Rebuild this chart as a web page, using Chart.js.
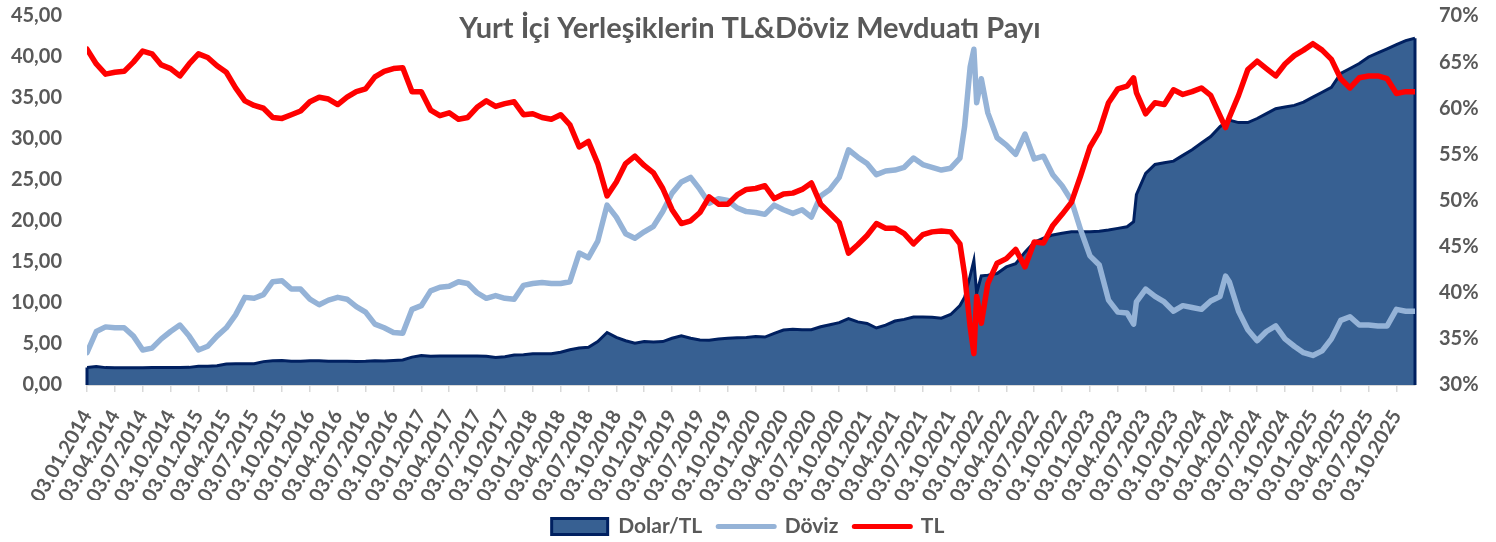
<!DOCTYPE html>
<html>
<head>
<meta charset="utf-8">
<script src="https://cdn.jsdelivr.net/npm/chart.js@4.4.0/dist/chart.umd.min.js"></script>
<style>
  html, body { margin: 0; padding: 0; background: #fff; }
  #wrap { width: 1496px; height: 542px; }
</style>
</head>
<body>
<div id="wrap"><canvas id="depositChart" width="1496" height="542"></canvas></div>
<script>
// month index from 03.01.2014 (0) to Dec 2025 (143); extra points around the Dec 2021 spike
const months = [
  0, 1, 2, 3, 4, 5, 6, 7, 8, 9,
  10, 11, 12, 13, 14, 15, 16, 17, 18, 19,
  20, 21, 22, 23, 24, 25, 26, 27, 28, 29,
  30, 31, 32, 33, 34, 35, 36, 37, 38, 39,
  40, 41, 42, 43, 44, 45, 46, 47, 48, 49,
  50, 51, 52, 53, 54, 55, 56, 57, 58, 59,
  60, 61, 62, 63, 64, 65, 66, 67, 68, 69,
  70, 71, 72, 73, 74, 75, 76, 77, 78, 79,
  80, 81, 82, 83, 84, 85, 86, 87, 88, 89,
  90, 91, 92, 93, 94,
  94.5, 95.1, 95.5, 95.8, 96.3,
  97, 98, 99, 100, 101, 102, 103, 104, 105, 106,
  107, 108, 109, 110, 111, 112,
  112.7,
  113, 114, 115, 116, 117, 118, 119, 120, 121, 122,
  122.6,
  123, 124, 125, 126, 127, 128, 129, 130, 131, 132,
  133, 134, 135, 136, 137, 138, 139, 140, 141, 142, 143
];

const dolarTL = [
  2.12, 2.25, 2.12, 2.1, 2.1, 2.1, 2.1, 2.12, 2.12, 2.12,
  2.12, 2.15, 2.28, 2.3, 2.35, 2.55, 2.58, 2.58, 2.6, 2.85,
  2.95, 3.0, 2.9, 2.9, 2.95, 2.95, 2.9, 2.9, 2.9, 2.88,
  2.9, 2.95, 2.92, 3.0, 3.05, 3.4, 3.6, 3.5, 3.55, 3.55,
  3.55, 3.55, 3.55, 3.5, 3.35, 3.45, 3.65, 3.7, 3.8, 3.8,
  3.8, 4.0, 4.3, 4.5, 4.6, 5.3, 6.4, 5.8, 5.4, 5.1,
  5.3, 5.25, 5.3, 5.7, 6.0, 5.7, 5.5, 5.45, 5.6, 5.7,
  5.75, 5.8, 5.9, 5.85, 6.3, 6.7, 6.8, 6.75, 6.75, 7.1,
  7.35, 7.6, 8.1, 7.7, 7.5, 6.95, 7.3, 7.8, 8.0, 8.3,
  8.3, 8.25, 8.15, 8.6, 9.7,
  10.7, 13.3, 15.2, 11.2, 13.3,
  13.4, 13.6, 14.4, 14.8, 16.2, 17.4, 17.9, 18.3, 18.5, 18.7,
  18.7, 18.7, 18.75, 18.9, 19.1, 19.3,
  19.9,
  23.2, 25.8, 26.9, 27.1, 27.3, 28.0, 28.7, 29.5, 30.3, 31.5,
  32.0,
  32.3, 32.0, 32.0, 32.5, 33.1, 33.7, 33.9, 34.1, 34.5, 35.1,
  35.7, 36.3, 38.0, 38.6, 39.2, 40.0, 40.5, 41.0, 41.5, 42.0, 42.3
];

const doviz = [
  33.5, 35.8, 36.3, 36.2, 36.2, 35.3, 33.8, 34.0, 35.0, 35.8,
  36.5, 35.3, 33.8, 34.2, 35.3, 36.2, 37.6, 39.5, 39.4, 39.8,
  41.2, 41.3, 40.4, 40.4, 39.3, 38.7, 39.2, 39.5, 39.3, 38.5,
  37.9, 36.6, 36.2, 35.7, 35.6, 38.2, 38.6, 40.2, 40.6, 40.7,
  41.2, 41.0, 40.0, 39.4, 39.7, 39.4, 39.3, 40.8, 41.0, 41.1,
  41.0, 41.0, 41.2, 44.3, 43.8, 45.6, 49.5, 48.2, 46.4, 45.9,
  46.6, 47.2, 48.8, 50.8, 52.0, 52.5, 51.2, 49.7, 50.2, 50.0,
  49.2, 48.8, 48.7, 48.5, 49.5, 49.0, 48.6, 49.0, 48.2, 50.5,
  51.2, 52.5, 55.5, 54.7, 54.0, 52.8, 53.2, 53.3, 53.6, 54.6,
  53.9, 53.6, 53.3, 53.5, 54.6,
  58.0, 64.5, 66.4, 60.6, 63.2,
  59.5, 56.8, 56.0, 55.0, 57.2, 54.5, 54.8, 52.8, 51.6, 50.0,
  46.8, 44.0, 43.0, 39.2, 37.9, 37.8,
  36.6,
  39.0, 40.4, 39.6, 39.0, 38.0, 38.6, 38.4, 38.2, 39.1, 39.6,
  41.8,
  41.2, 38.0, 36.0, 34.8, 35.8, 36.4, 35.0, 34.2, 33.5, 33.2,
  33.7, 35.0, 37.0, 37.4, 36.5, 36.5, 36.4, 36.4, 38.2, 38.0, 38.0
];

const tl = [
  66.4, 64.8, 63.7, 63.9, 64.0, 65.0, 66.2, 65.9, 64.7, 64.3,
  63.5, 64.8, 65.9, 65.5, 64.6, 63.9, 62.2, 60.8, 60.3, 60.0,
  59.0, 58.9, 59.3, 59.7, 60.7, 61.2, 61.0, 60.4, 61.2, 61.8,
  62.1, 63.4, 64.0, 64.3, 64.4, 61.8, 61.8, 59.8, 59.2, 59.5,
  58.8, 59.0, 60.1, 60.8, 60.2, 60.5, 60.7, 59.3, 59.4, 59.0,
  58.8, 59.3, 58.2, 55.8, 56.4, 54.0, 50.5, 52.0, 54.0, 54.8,
  53.8, 53.0, 51.3, 49.0, 47.5, 47.8, 48.7, 50.4, 49.6, 49.6,
  50.6, 51.2, 51.3, 51.6, 50.2, 50.7, 50.8, 51.2, 51.9, 49.6,
  48.6, 47.6, 44.3, 45.2, 46.2, 47.5, 47.0, 47.0, 46.4, 45.3,
  46.3, 46.6, 46.7, 46.6, 45.3,
  42.0, 36.3, 33.4, 39.6, 36.7,
  41.0, 43.2, 43.7, 44.7, 42.8, 45.5, 45.4, 47.3, 48.5, 49.8,
  52.7, 55.8, 57.5, 60.6, 62.1, 62.4,
  63.3,
  61.7, 59.4, 60.6, 60.4, 62.0, 61.5, 61.8, 62.2, 61.4, 59.2,
  57.9,
  59.0, 61.4, 64.2, 65.1, 64.3, 63.5, 64.8, 65.7, 66.3, 67.0,
  66.3, 65.3, 63.2, 62.2, 63.3, 63.5, 63.5, 63.2, 61.6, 61.8, 61.8
];

const quarterLabels = [
  '03.01.2014', '03.04.2014', '03.07.2014', '03.10.2014',
  '03.01.2015', '03.04.2015', '03.07.2015', '03.10.2015',
  '03.01.2016', '03.04.2016', '03.07.2016', '03.10.2016',
  '03.01.2017', '03.04.2017', '03.07.2017', '03.10.2017',
  '03.01.2018', '03.04.2018', '03.07.2018', '03.10.2018',
  '03.01.2019', '03.04.2019', '03.07.2019', '03.10.2019',
  '03.01.2020', '03.04.2020', '03.07.2020', '03.10.2020',
  '03.01.2021', '03.04.2021', '03.07.2021', '03.10.2021',
  '03.01.2022', '03.04.2022', '03.07.2022', '03.10.2022',
  '03.01.2023', '03.04.2023', '03.07.2023', '03.10.2023',
  '03.01.2024', '03.04.2024', '03.07.2024', '03.10.2024',
  '03.01.2025', '03.04.2025', '03.07.2025', '03.10.2025'
];

const titleText = 'Yurt İçi Yerleşiklerin TL&Döviz Mevduatı Payı';
const textGray = '#595959';
const fontFamily = 'Lato, "Open Sans", sans-serif';
const plotBottom = 385;
const bottomPad = -5;

const toPoints = values => months.map((m, i) => ({ x: m, y: values[i] }));

// title sits inside the plot area, like the Excel original
const overlayTitle = {
    id: 'overlayTitle',
    afterDraw(chart) {
        const ctx = chart.ctx;
        ctx.save();
        ctx.font = 'bold 29px ' + fontFamily;
        ctx.fillStyle = textGray;
        ctx.textAlign = 'center';
        ctx.textBaseline = 'alphabetic';
        ctx.fillText(titleText, 750, 38);
        ctx.restore();
    }
};

// Excel strokes the vertical ends of the area too
const areaEdges = {
    id: 'areaEdges',
    afterDatasetDraw(chart, args) {
        if (args.index !== 0) return;
        const { ctx, scales } = chart;
        const last = dolarTL.length - 1;
        const x0 = scales.x.getPixelForValue(months[0]);
        const x1 = scales.x.getPixelForValue(months[last]);
        const yBase = scales.y.getPixelForValue(0);
        ctx.save();
        ctx.strokeStyle = '#002060';
        ctx.lineWidth = 3;
        ctx.beginPath();
        ctx.moveTo(x0, scales.y.getPixelForValue(dolarTL[0]));
        ctx.lineTo(x0, yBase);
        ctx.moveTo(x1, scales.y.getPixelForValue(dolarTL[last]));
        ctx.lineTo(x1, yBase);
        ctx.stroke();
        ctx.restore();
    }
};

const noVerticalPadding = scale => {
    scale.paddingTop = 0;
    scale.paddingBottom = 0;
};

const ctx = document.getElementById('depositChart').getContext('2d');

new Chart(ctx, {
    type: 'line',
    data: {
        datasets: [
            {
                label: 'Dolar/TL',
                data: toPoints(dolarTL),
                yAxisID: 'y',
                fill: 'origin',
                backgroundColor: '#376092',
                borderColor: '#002060',
                borderWidth: 3,
                pointRadius: 0,
                tension: 0,
                order: 3
            },
            {
                label: 'Döviz',
                data: toPoints(doviz),
                yAxisID: 'y2',
                fill: false,
                borderColor: '#95B3D7',
                borderWidth: 5.5,
                borderJoinStyle: 'round',
                borderCapStyle: 'round',
                pointRadius: 0,
                tension: 0,
                order: 2
            },
            {
                label: 'TL',
                data: toPoints(tl),
                yAxisID: 'y2',
                fill: false,
                borderColor: '#FF0000',
                borderWidth: 5.5,
                borderJoinStyle: 'round',
                borderCapStyle: 'round',
                pointRadius: 0,
                tension: 0,
                order: 1
            }
        ]
    },
    options: {
        responsive: false,
        animation: false,
        layout: { padding: { top: 16, left: 0, right: 0, bottom: bottomPad } },
        plugins: {
            title: { display: false },
            tooltip: { enabled: false },
            legend: {
                position: 'bottom',
                labels: {
                    usePointStyle: true,
                    pointStyleWidth: 56,
                    boxHeight: 16,
                    padding: 16,
                    color: textGray,
                    font: { family: fontFamily, weight: 'bold', size: 21 },
                    generateLabels: chart => chart.data.datasets.map((ds, i) => ({
                        text: ds.label,
                        datasetIndex: i,
                        fillStyle: i === 0 ? '#376092' : ds.borderColor,
                        strokeStyle: ds.borderColor,
                        lineWidth: i === 0 ? 3 : 5,
                        pointStyle: i === 0 ? 'rect' : 'line',
                        lineCap: i === 0 ? 'butt' : 'round',
                        fontColor: textGray,
                        hidden: false
                    }))
                }
            }
        },
        scales: {
            x: {
                type: 'linear',
                min: 0,
                max: 143,
                afterBuildTicks: axis => {
                    axis.ticks = quarterLabels.map((_, i) => ({ value: i * 3 }));
                },
                afterFit: scale => {
                    scale.height = scale.chart.height - bottomPad - plotBottom - scale.chart.legend.height;
                },
                ticks: {
                    autoSkip: false,
                    maxRotation: 60,
                    minRotation: 60,
                    padding: 14,
                    color: textGray,
                    font: { family: fontFamily, weight: 'bold', size: 20 },
                    callback: value => quarterLabels[Math.round(value / 3)]
                },
                grid: {
                    display: true,
                    drawOnChartArea: false,
                    drawTicks: true,
                    tickLength: 7,
                    color: '#D9D9D9',
                    lineWidth: 1.5
                },
                border: { display: true, color: '#D9D9D9', width: 2 }
            },
            y: {
                position: 'left',
                min: 0,
                max: 45,
                afterFit: scale => {
                    scale.width = 87;
                    noVerticalPadding(scale);
                },
                ticks: {
                    stepSize: 5,
                    padding: 25,
                    color: textGray,
                    font: { family: fontFamily, weight: 'bold', size: 20 },
                    callback: value => value.toFixed(2).replace('.', ',')
                },
                grid: { display: false, drawTicks: false },
                border: { display: false }
            },
            y2: {
                position: 'right',
                min: 30,
                max: 70,
                afterFit: scale => {
                    scale.width = 81;
                    noVerticalPadding(scale);
                },
                ticks: {
                    stepSize: 5,
                    padding: 24,
                    color: textGray,
                    font: { family: fontFamily, weight: 'bold', size: 20 },
                    callback: value => value + '%'
                },
                grid: { display: false, drawTicks: false },
                border: { display: false }
            }
        }
    },
    plugins: [overlayTitle, areaEdges]
});
</script>
</body>
</html>
